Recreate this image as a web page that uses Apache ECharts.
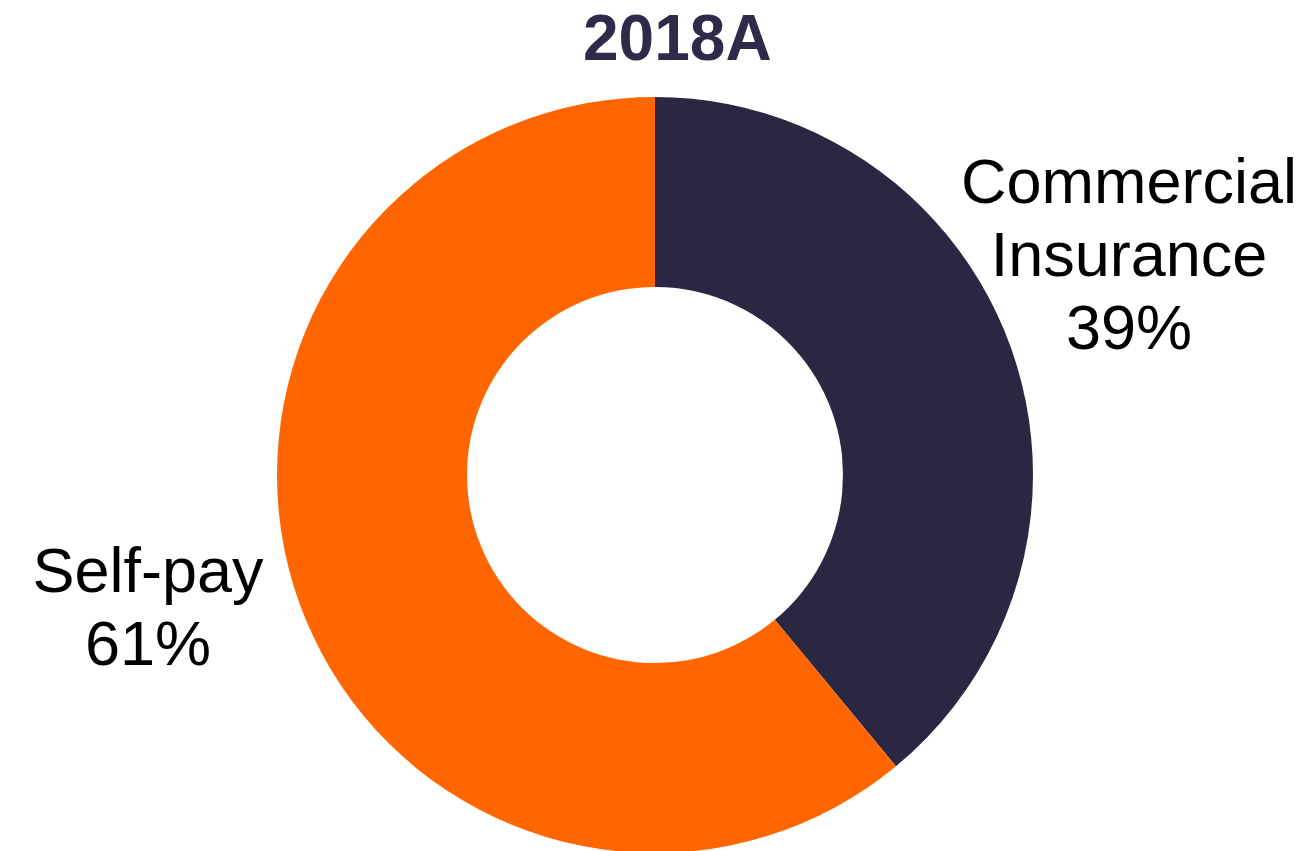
<!DOCTYPE html>
<html>
<head>
<meta charset="utf-8">
<title>2018A payer mix</title>
<script src="https://cdn.jsdelivr.net/npm/echarts@6/dist/echarts.min.js"></script>
<style>
  html, body { margin: 0; padding: 0; background: #ffffff; }
  #chart { width: 1312px; height: 851px; }
</style>
</head>
<body>
<div id="chart"></div>
<script>
// Payer mix for 2018A (share of revenue, %)
const chartTitle = '2018A';
const categories = ['Commercial Insurance', 'Self-pay'];
const shares = [39, 61];
const sliceColors = ['#2a2742', '#ff6600'];

// Where each slice's label block is centred
const labelAnchors = [
  { x: 1129, y: 259 },
  { x: 148, y: 611 }
];

const chart = echarts.init(document.getElementById('chart'), null, { renderer: 'canvas' });

chart.setOption({
  backgroundColor: '#ffffff',
  animation: false,
  title: {
    text: chartTitle,
    left: 578,
    top: 5,
    textStyle: {
      fontFamily: 'Liberation Sans, Arial, sans-serif',
      fontSize: 64,
      fontWeight: 'bold',
      color: '#2e2a4a',
      lineHeight: 64
    }
  },
  series: [{
    type: 'pie',
    center: [655, 475],
    radius: [188, 378],
    startAngle: 90,
    clockwise: true,
    avoidLabelOverlap: false,
    itemStyle: { borderWidth: 0 },
    emphasis: { disabled: true },
    labelLine: { show: false },
    label: {
      show: true,
      position: 'outside',
      fontFamily: 'Liberation Sans, Arial, sans-serif',
      fontSize: 63,
      lineHeight: 73,
      color: '#000000',
      align: 'center',
      formatter: function (p) {
        return p.name.replace(' ', '\n') + '\n' + p.value + '%';
      }
    },
    labelLayout: function (params) {
      const a = labelAnchors[params.dataIndex];
      return { x: a.x, y: a.y, align: 'center', verticalAlign: 'middle' };
    },
    data: categories.map(function (name, i) {
      return { name: name, value: shares[i], itemStyle: { color: sliceColors[i] } };
    })
  }]
});
</script>
</body>
</html>
